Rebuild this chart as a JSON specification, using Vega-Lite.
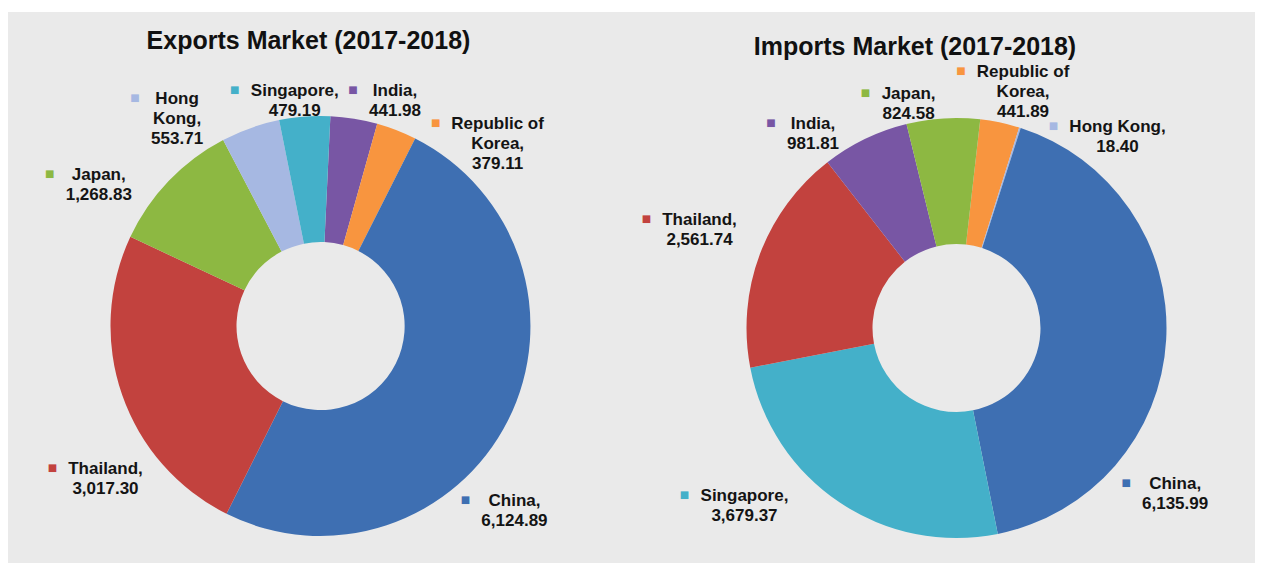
{
  "$schema": "https://vega.github.io/schema/vega-lite/v6.json",
  "background": "white",
  "padding": {"left": 8, "top": 12, "right": 8, "bottom": 11},
  "spacing": 0,
  "config": {
    "view": {"stroke": null, "fill": "#eaeaea"},
    "font": "Liberation Sans"
  },
  "datasets": {
    "exports": [
      {"country": "India", "value": 441.98},
      {"country": "Republic of Korea", "value": 379.11},
      {"country": "China", "value": 6124.89},
      {"country": "Thailand", "value": 3017.30},
      {"country": "Japan", "value": 1268.83},
      {"country": "Hong Kong", "value": 553.71},
      {"country": "Singapore", "value": 479.19}
    ],
    "imports": [
      {"country": "Republic of Korea", "value": 441.89},
      {"country": "Hong Kong", "value": 18.40},
      {"country": "China", "value": 6135.99},
      {"country": "Singapore", "value": 3679.37},
      {"country": "Thailand", "value": 2561.74},
      {"country": "India", "value": 981.81},
      {"country": "Japan", "value": 824.58}
    ]
  },
  "hconcat": [
    {
      "width": 623,
      "height": 551,
      "view": {"fill": "#eaeaea", "stroke": null},
      "title": {"text": "Exports Market (2017-2018)", "font": "Liberation Sans", "fontSize": 25, "fontWeight": "bold", "color": "#111111", "anchor": "middle", "baseline": "alphabetic", "offset": -62, "dx": -11},
      "data": {"name": "exports"},
      "transform": [{"window": [{"op": "row_number", "as": "idx"}]}],
      "encoding": {
        "theta": {"field": "value", "type": "quantitative", "stack": true, "scale": {"range": [0.0471, 6.3303]}},
        "order": {"field": "idx", "type": "quantitative"}
      },
      "layer": [
        {
          "mark": {"type": "arc", "outerRadius": 210, "innerRadius": 84, "x": 312.5, "y": 314},
          "encoding": {
            "color": {"field": "country", "type": "nominal", "legend": null,
              "scale": {"domain": ["China", "Thailand", "Japan", "Hong Kong", "Singapore", "India", "Republic of Korea"],
                        "range": ["#3e6fb2", "#c2423e", "#8db842", "#a6b8e2", "#44b0c9", "#7856a4", "#f8953f"]}}
          }
        },
        {
          "mark": {"type": "text", "radius": 235, "x": 312.5, "y": 315,
            "align": "center", "baseline": "middle", "font": "Liberation Sans", "fontSize": 17, "fontWeight": "bold",
            "lineHeight": 20, "lineBreak": "\n", "color": "#141414",
            "text": {"expr": "replace(replace(datum.country, 'Republic of ', 'Republic of\\n'), 'Hong ', 'Hong\\n') + ',\\n' + format(datum.value, ',.2f')"},
            "dx": {"expr": "datum.country==='India'?37:datum.country==='Republic of Korea'?92:datum.country==='China'?-16:datum.country==='Thailand'?7:datum.country==='Japan'?-52:datum.country==='Hong Kong'?-65:-8"},
            "dy": {"expr": "datum.country==='India'?-4:datum.country==='Republic of Korea'?16:datum.country==='China'?68:datum.country==='Thailand'?65:datum.country==='Japan'?11:datum.country==='Hong Kong'?-6:-2"}
          }
        },
        {
          "mark": {"type": "text", "radius": 235, "x": 312.5, "y": 314,
            "align": "center", "baseline": "middle", "font": "DejaVu Sans", "fontSize": 10, "text": "■",
            "dx": {"expr": "datum.country==='India'?-5:datum.country==='Republic of Korea'?30:datum.country==='China'?-65:datum.country==='Thailand'?-46:datum.country==='Japan'?-101:datum.country==='Hong Kong'?-107:-68"},
            "dy": {"expr": "datum.country==='India'?-4:datum.country==='Republic of Korea'?16:datum.country==='China'?68:datum.country==='Thailand'?65:datum.country==='Japan'?11:datum.country==='Hong Kong'?-6:-2"}
          },
          "encoding": {
            "color": {"field": "country", "type": "nominal", "legend": null,
              "scale": {"domain": ["China", "Thailand", "Japan", "Hong Kong", "Singapore", "India", "Republic of Korea"],
                        "range": ["#3e6fb2", "#c2423e", "#8db842", "#a6b8e2", "#44b0c9", "#7856a4", "#f8953f"]}}
          }
        }
      ]
    },
    {
      "width": 624,
      "height": 551,
      "view": {"fill": "#eaeaea", "stroke": null},
      "title": {"text": "Imports Market (2017-2018)", "font": "Liberation Sans", "fontSize": 25, "fontWeight": "bold", "color": "#111111", "anchor": "middle", "baseline": "alphabetic", "offset": -68, "dx": -28},
      "data": {"name": "imports"},
      "transform": [{"window": [{"op": "row_number", "as": "idx"}]}],
      "encoding": {
        "theta": {"field": "value", "type": "quantitative", "stack": true, "scale": {"range": [0.1134, 6.3966]}},
        "order": {"field": "idx", "type": "quantitative"}
      },
      "layer": [
        {
          "mark": {"type": "arc", "outerRadius": 210, "innerRadius": 84, "x": 325.5, "y": 316},
          "encoding": {
            "color": {"field": "country", "type": "nominal", "legend": null,
              "scale": {"domain": ["China", "Thailand", "Japan", "Hong Kong", "Singapore", "India", "Republic of Korea"],
                        "range": ["#3e6fb2", "#c2423e", "#8db842", "#a6b8e2", "#44b0c9", "#7856a4", "#f8953f"]}}
          }
        },
        {
          "mark": {"type": "text", "radius": 235, "x": 325.5, "y": 318,
            "align": "center", "baseline": "middle", "font": "Liberation Sans", "fontSize": 17, "fontWeight": "bold",
            "lineHeight": 20, "lineBreak": "\n", "color": "#141414",
            "text": {"expr": "replace(datum.country, 'Republic of ', 'Republic of\\n') + ',\\n' + format(datum.value, ',.2f')"},
            "dx": {"expr": "datum.country==='Republic of Korea'?18:datum.country==='Hong Kong'?90:datum.country==='China'?-16:datum.country==='Singapore'?-81:datum.country==='Thailand'?-37:datum.country==='India'?-41:-33"},
            "dy": {"expr": "datum.country==='Republic of Korea'?-28:datum.country==='Hong Kong'?21:datum.country==='China'?141:datum.country==='Singapore'?-29:datum.country==='Thailand'?-27:datum.country==='India'?6:-1"}
          }
        },
        {
          "mark": {"type": "text", "radius": 235, "x": 325.5, "y": 317,
            "align": "center", "baseline": "middle", "font": "DejaVu Sans", "fontSize": 10, "text": "■",
            "dx": {"expr": "datum.country==='Republic of Korea'?-44:datum.country==='Hong Kong'?26:datum.country==='China'?-65:datum.country==='Singapore'?-141:datum.country==='Thailand'?-90:datum.country==='India'?-83:-76"},
            "dy": {"expr": "datum.country==='Republic of Korea'?-28:datum.country==='Hong Kong'?21:datum.country==='China'?141:datum.country==='Singapore'?-29:datum.country==='Thailand'?-27:datum.country==='India'?6:-1"}
          },
          "encoding": {
            "color": {"field": "country", "type": "nominal", "legend": null,
              "scale": {"domain": ["China", "Thailand", "Japan", "Hong Kong", "Singapore", "India", "Republic of Korea"],
                        "range": ["#3e6fb2", "#c2423e", "#8db842", "#a6b8e2", "#44b0c9", "#7856a4", "#f8953f"]}}
          }
        }
      ]
    }
  ]
}
